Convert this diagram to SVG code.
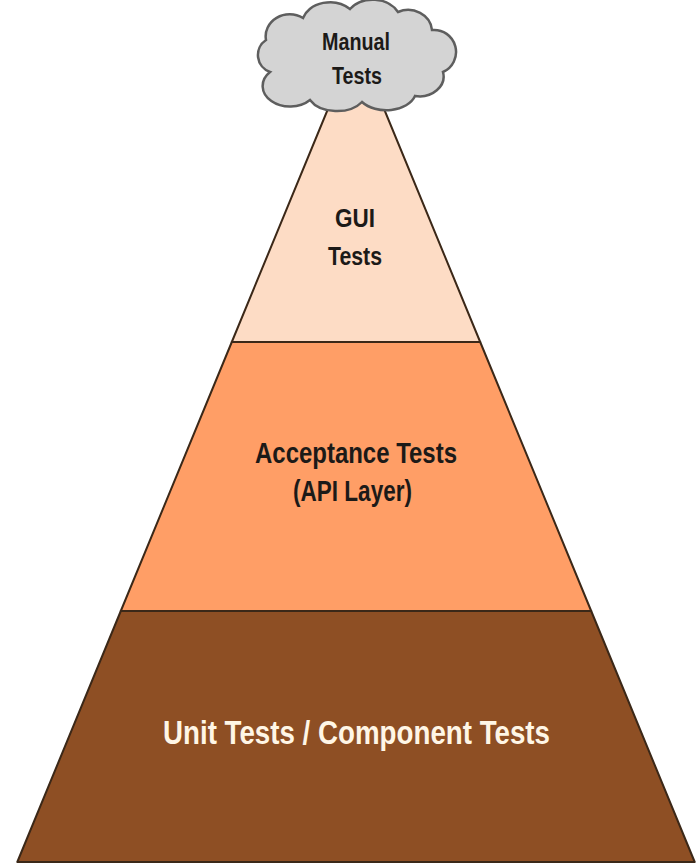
<svg xmlns="http://www.w3.org/2000/svg" width="699" height="865" viewBox="0 0 699 865">
  <style>
    .layer { stroke: #3b2818; stroke-width: 2; stroke-linejoin: round; }
    .lbl { font-family: "Liberation Sans", Arial, sans-serif; font-weight: bold; text-anchor: middle; }
    .dark { fill: #1c1a18; }
    .light { fill: #fff6e6; }
  </style>
  <rect width="699" height="865" fill="#ffffff"/>
  <g id="unit-tests">
    <polygon class="layer" points="120.8,611 591.2,611 694.7,862 17.3,862" fill="#8e4f24"/>
    <text class="lbl light" x="356.5" y="744" font-size="33" textLength="387" lengthAdjust="spacingAndGlyphs">Unit Tests / Component Tests</text>
  </g>
  <g id="acceptance-tests">
    <polygon class="layer" points="231.8,342 480.2,342 591.2,611 120.8,611" fill="#ff9e66"/>
    <text class="lbl dark" x="356" y="463" font-size="30" textLength="202" lengthAdjust="spacingAndGlyphs">Acceptance Tests</text>
    <text class="lbl dark" x="352.5" y="501" font-size="30" textLength="119" lengthAdjust="spacingAndGlyphs">(API Layer)</text>
  </g>
  <g id="gui-tests">
    <polygon class="layer" points="356,41 480.2,342 231.8,342" fill="#fddcc5"/>
    <text class="lbl dark" x="355" y="227" font-size="26" textLength="40" lengthAdjust="spacingAndGlyphs">GUI</text>
    <text class="lbl dark" x="355" y="265" font-size="26" textLength="54" lengthAdjust="spacingAndGlyphs">Tests</text>
  </g>
  <g id="manual-tests">
    <path d="M 270,72 A 18,18 0 0 1 266,40 A 24,22 0 0 1 303,18 A 28,22 0 0 1 350,9 A 28,22 0 0 1 398,12 A 24,22 0 0 1 432,30 A 22,22 0 0 1 443,72 A 24,20 0 0 1 415,96 A 30,20 0 0 1 362,102 A 30,20 0 0 1 310,100 A 24,18 0 0 1 270,72 Z" fill="#d4d4d4" stroke="#5e5e5e" stroke-width="2.5"/>
    <text class="lbl dark" x="356" y="50" font-size="23" textLength="68" lengthAdjust="spacingAndGlyphs">Manual</text>
    <text class="lbl dark" x="357" y="84" font-size="23" textLength="50" lengthAdjust="spacingAndGlyphs">Tests</text>
  </g>
</svg>
